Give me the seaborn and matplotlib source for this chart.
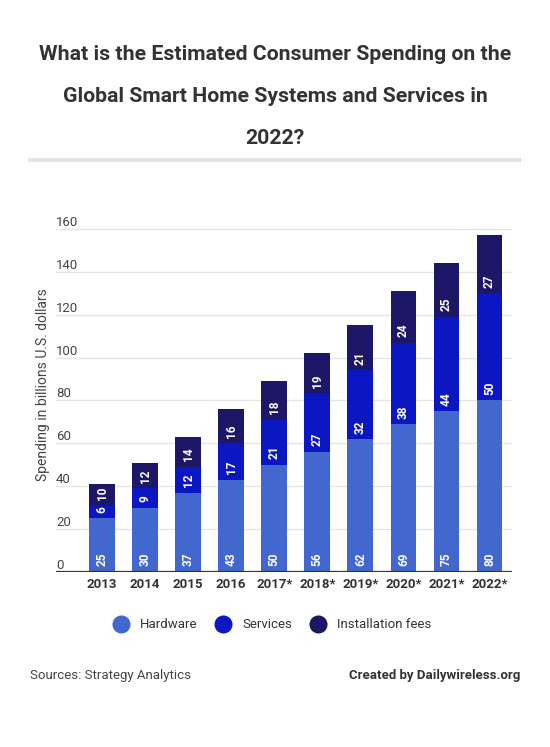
import matplotlib
matplotlib.use("Agg")
import matplotlib.pyplot as plt
from matplotlib.lines import Line2D
from matplotlib.transforms import offset_copy
import seaborn as sns
import pandas as pd

years = ["2013", "2014", "2015", "2016", "2017*", "2018*", "2019*", "2020*", "2021*", "2022*"]
hardware = [25, 30, 37, 43, 50, 56, 62, 69, 75, 80]
services = [6, 9, 12, 17, 21, 27, 32, 38, 44, 50]
install = [10, 12, 14, 16, 18, 19, 21, 24, 25, 27]

c_hw = "#4267cf"
c_sv = "#0c17c4"
c_in = "#1c1766"

df = pd.DataFrame({"year": years, "hw": hardware, "sv": services, "inst": install})
df["hw_sv"] = df["hw"] + df["sv"]
df["total"] = df["hw_sv"] + df["inst"]

sns.set_style("white")
plt.rcParams["font.family"] = ["Roboto", "DejaVu Sans"]

fig = plt.figure(figsize=(5.5, 7.47), dpi=100)
ax = fig.add_axes([0.1018, 0.2343, 0.829, 0.4735])

# stacked bars drawn as overlapping cumulative totals
bar_kw = dict(saturation=1, width=0.6, ax=ax, zorder=3, linewidth=0, edgecolor="none")
sns.barplot(data=df, x="year", y="total", color=c_in, **bar_kw)
sns.barplot(data=df, x="year", y="hw_sv", color=c_sv, **bar_kw)
sns.barplot(data=df, x="year", y="hw", color=c_hw, **bar_kw)

ax.set_ylim(0, 165)
ax.set_xlim(-1.07, 9.52)

# grid + y labels sitting on the lines
for v in range(20, 161, 20):
    ax.axhline(v, color="#e6e6e6", lw=1, zorder=1)
    ax.text(0, v, str(v), transform=ax.get_yaxis_transform(), ha="left", va="bottom",
            fontsize=9.5, color="#444444")
ax.text(0, 0, "0", transform=ax.get_yaxis_transform(), ha="left", va="bottom",
        fontsize=9.5, color="#444444")
ax.axhline(0, color="#333333", lw=1.6, zorder=4)

for s in ax.spines.values():
    s.set_visible(False)
ax.set_yticks([])
ax.set_xlabel("")
ax.set_ylabel("")
ax.tick_params(axis="x", length=0, pad=4, labelsize=9.5, labelcolor="#333333")
for t in ax.get_xticklabels():
    t.set_fontweight("semibold")

fig.text(43 / 550, 1 - 385 / 747, "Spending in billions U.S. dollars", rotation=90,
         ha="center", va="center", fontsize=10, color="#444444")

# value labels at the base of each segment
trans = offset_copy(ax.transData, fig=fig, x=0, y=4, units="points")
for i in range(len(years)):
    bases = [0, hardware[i], hardware[i] + services[i]]
    vals = [hardware[i], services[i], install[i]]
    for b, v in zip(bases, vals):
        ax.text(i, b, str(v), rotation=90, ha="center", va="bottom", color="white",
                fontsize=8.5, fontweight="bold", transform=trans, zorder=5)

# title
title_kw = dict(ha="center", va="center", fontsize=15.3, fontweight="bold", color="#333333")
fig.text(0.5, 1 - 55 / 747, "What is the Estimated Consumer Spending on the", **title_kw)
fig.text(0.5, 1 - 97 / 747, "Global Smart Home Systems and Services in", **title_kw)
fig.text(0.5, 1 - 138 / 747, "2022?", **title_kw)
fig.add_artist(Line2D([30 / 550, 520 / 550], [1 - 160 / 747] * 2, color="#e3e3e3", lw=3,
                      transform=fig.transFigure))

# legend
handles = [Line2D([], [], marker="o", ls="", markersize=12, markerfacecolor=c, markeredgecolor=c)
           for c in (c_hw, c_sv, c_in)]
fig.legend(handles, ["Hardware", "Services", "Installation fees"], loc="center",
           bbox_to_anchor=(0.49, 1 - 625 / 747), ncol=3, frameon=False, fontsize=9.5,
           handletextpad=0.5, columnspacing=0.9, labelcolor="#333333")

# footer
fig.text(30 / 550, 1 - 676 / 747, "Sources: Strategy Analytics", ha="left", va="center",
         fontsize=9.5, color="#444444")
fig.text(520 / 550, 1 - 676 / 747, "Created by Dailywireless.org", ha="right", va="center",
         fontsize=9.5, fontweight="bold", color="#333333")

fig.savefig("out.png", dpi=100)
